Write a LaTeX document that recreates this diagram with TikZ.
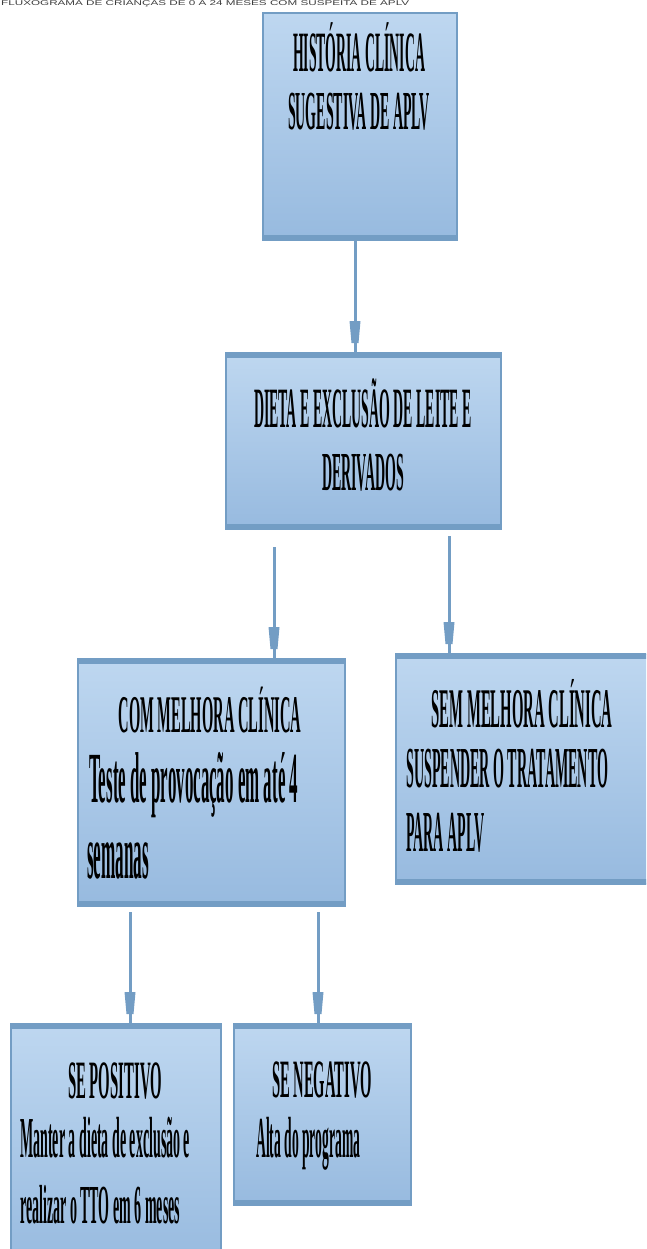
\documentclass[tikz,border=0pt]{standalone}
\usepackage{fontspec}
\setmainfont{Liberation Serif}
\newfontfamily\titlefont{Liberation Sans}
\usepackage{graphicx}
\usetikzlibrary{decorations.markings,calc}
\definecolor{boxtop}{RGB}{190,215,240}
\definecolor{boxbot}{RGB}{151,186,223}
\definecolor{bordc}{RGB}{115,157,196}
\definecolor{titlec}{RGB}{60,60,60}
\newcommand\hdline[3]{\resizebox{#1pt}{\height}{\fontsize{#2}{#2}\selectfont\bfseries #3}}
\newcommand\bdline[3]{\resizebox{#1pt}{\height}{\fontsize{#2}{#2}\selectfont\bfseries #3}}
\tikzset{
  boxbase/.style={rectangle, draw=bordc, line width=2pt, top color=boxtop, bottom color=boxbot,
    inner sep=0pt, anchor=north west},
  boxfull/.style={boxbase,
    path picture={
      \fill[bordc] (path picture bounding box.south west) rectangle ([yshift=5pt]path picture bounding box.south east);
      \fill[bordc] (path picture bounding box.north west) rectangle ([yshift=-5pt]path picture bounding box.north east);}},
  boxnotop/.style={boxbase,
    path picture={
      \fill[bordc] (path picture bounding box.south west) rectangle ([yshift=5pt]path picture bounding box.south east);}},
  ctxt/.style={inner sep=0pt, anchor=base, text=black},
  ltxt/.style={inner sep=0pt, anchor=base west, text=black},
  conn/.style={draw=bordc, line width=3pt, postaction={decorate},
    decoration={markings, mark=at position -9pt with {
      \fill[bordc] (-22pt,-5.5pt) -- (0pt,-3.5pt) -- (0pt,3.5pt) -- (-22pt,5.5pt) -- cycle;}}}
}
\begin{document}
\begin{tikzpicture}[x=1pt, y=-1pt]
\useasboundingbox (0,0) rectangle (646,1249);
\clip (0,0) rectangle (646,1249);

% title
\node[ltxt, text=titlec] (title) at (1,5.6) {\resizebox{408pt}{\height}{\fontsize{7}{8}\selectfont\titlefont FLUXOGRAMA DE CRIANÇAS DE 0 A 24 MESES COM SUSPEITA DE APLV}};

% boxes
\node[boxnotop, minimum width=194pt, minimum height=227pt] (b1) at (262,12) {};
\node[boxfull, minimum width=275pt, minimum height=176pt] (b2) at (225,352) {};
\node[boxfull, minimum width=267pt, minimum height=247pt] (b3) at (77,658) {};
\node[boxfull, minimum width=262pt, minimum height=230pt] (b4) at (395,653) {};
\node[boxfull, minimum width=210pt, minimum height=245pt] (b5) at (10,1023) {};
\node[boxfull, minimum width=177pt, minimum height=181pt] (b6) at (233,1023) {};

% texts box 1
\node[ctxt] (t1a) at (359,72) {\hdline{132}{57}{HISTÓRIA CLÍNICA}};
\node[ctxt] (t1b) at (359,130) {\hdline{142}{55}{SUGESTIVA DE APLV}};
% box 2
\node[ctxt] (t2a) at (363,427) {\hdline{218}{57}{DIETA E EXCLUSÃO DE LEITE E}};
\node[ctxt] (t2b) at (363,490) {\hdline{82}{55}{DERIVADOS}};
% box 3
\node[ctxt] (t3a) at (210,732) {\hdline{183}{53}{COM MELHORA CLÍNICA}};
\node[ltxt] (t3b) at (89,802) {\bdline{209}{72}{Teste de provocação em até 4}};
\node[ltxt] (t3c) at (87,878) {\bdline{62}{76}{semanas}};
% box 4
\node[ctxt] (t4a) at (522,727) {\hdline{181}{56}{SEM MELHORA CLÍNICA}};
\node[ltxt] (t4b) at (406,787) {\bdline{202}{58}{SUSPENDER O TRATAMENTO}};
\node[ltxt] (t4c) at (406,851) {\bdline{78}{58}{PARA APLV}};
% box 5
\node[ctxt] (t5a) at (115,1098) {\hdline{94}{54}{SE POSITIVO}};
\node[ltxt] (t5b) at (20,1157) {\bdline{170}{58}{Manter a dieta de exclusão e}};
\node[ltxt] (t5c) at (20,1223) {\bdline{160}{55}{realizar o TTO em 6 meses}};
% box 6
\node[ctxt] (t6a) at (322,1097) {\hdline{100}{54}{SE NEGATIVO}};
\node[ltxt] (t6b) at (256,1157) {\bdline{104}{58}{Alta do programa}};

% connectors
\draw[conn] ($(b1.south west)+(93,0)$) -- ($(b2.north west)+(130,0)$);
\draw[conn] ($(b2.south west)+(49,17)$) -- ($(b3.north west)+(197,0)$);
\draw[conn] ($(b2.south west)+(224,6)$) -- ($(b4.north west)+(54,0)$);
\draw[conn] ($(b3.south west)+(53,5)$) -- ($(b5.north west)+(120,0)$);
\draw[conn] ($(b3.south west)+(241,5)$) -- ($(b6.north west)+(85,0)$);
\end{tikzpicture}
\end{document}
